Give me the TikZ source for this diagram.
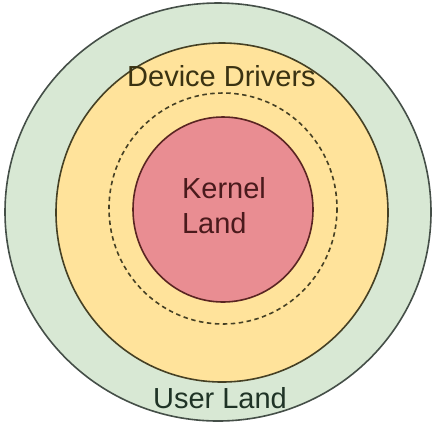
\documentclass[tikz,border=0pt]{standalone}
\usepackage{fontspec}
\setmainfont{Liberation Sans}
\definecolor{userfill}{HTML}{D8E8D4}
\definecolor{drvfill}{HTML}{FFE39B}
\definecolor{kernfill}{HTML}{E98D92}
\definecolor{userline}{HTML}{454F48}
\definecolor{drvline}{HTML}{454024}
\definecolor{kernline}{HTML}{5A2522}
\definecolor{usertext}{HTML}{1F3326}
\definecolor{drvtext}{HTML}{3A3212}
\definecolor{kerntext}{HTML}{4A1A1C}
\tikzset{
  ring/.style={line width=1.6pt},
  lbl/.style={inner sep=0pt, outer sep=0pt, font=\fontsize{29}{35}\selectfont},
}
\begin{document}
\begin{tikzpicture}[x=1pt,y=-1pt]
\useasboundingbox (0,0) rectangle (438,424);
\draw[ring, draw=userline, fill=userfill] (218,212) ellipse [x radius=213, y radius=209];
\draw[ring, draw=drvline, fill=drvfill] (222,212.5) ellipse [x radius=166, y radius=169.5];
\draw[ring, draw=drvline, dash pattern=on 4.5pt off 3.5pt] (223,208.5) ellipse [x radius=114, y radius=115.5];
\draw[ring, draw=kernline, fill=kernfill] (223,209.5) ellipse [x radius=90, y radius=92.5];
\node[lbl, text=drvtext, anchor=base] (drivers) at (221.5,86.7) {Device Drivers};
\node[lbl, text=kerntext, align=left, anchor=center] (kernel) at (224,206) {Kernel\\Land};
\node[lbl, text=usertext, anchor=base] (user) at (220,408) {User Land};
\end{tikzpicture}
\end{document}
